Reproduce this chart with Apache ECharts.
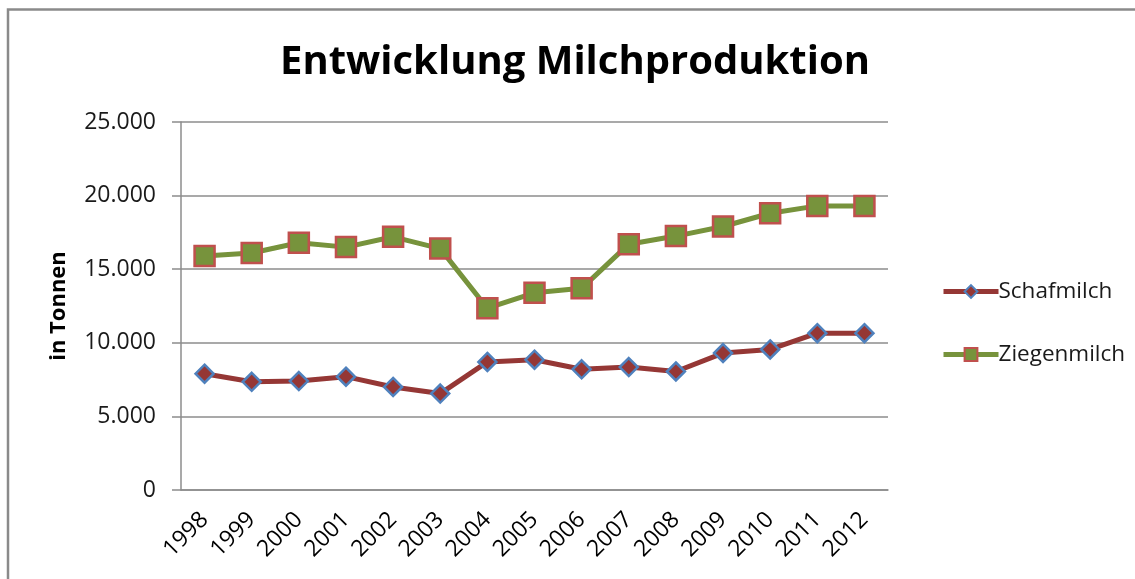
<!DOCTYPE html>
<html>
<head>
<meta charset="utf-8">
<script src="https://cdn.jsdelivr.net/npm/echarts@6/dist/echarts.min.js"></script>
<style>
html,body{margin:0;padding:0;background:#fff;}
#chart{width:1135px;height:579px;}
</style>
</head>
<body>
<div id="chart"></div>
<script>
const years = ['1998','1999','2000','2001','2002','2003','2004','2005','2006','2007','2008','2009','2010','2011','2012'];
const schafmilch = [7900, 7350, 7400, 7700, 7000, 6550, 8700, 8850, 8200, 8350, 8050, 9300, 9550, 10650, 10650];
const ziegenmilch = [15900, 16100, 16800, 16500, 17200, 16400, 12350, 13400, 13700, 16700, 17250, 17900, 18800, 19300, 19300];
const yTicks = [0, 5000, 10000, 15000, 20000, 25000];

const FONT = 'Open Sans';
const fmt = v => v === 0 ? '0' : v.toLocaleString('de-DE');

const chart = echarts.init(document.getElementById('chart'), null, {renderer: 'canvas'});
chart.setOption({
  animation: false,
  backgroundColor: '#fff',
  graphic: [{
    type: 'rect', shape: {x: 8, y: 9.5, width: 2000, height: 2000},
    style: {fill: 'none', stroke: '#8a8a8a', lineWidth: 2.5}, silent: true
  }],
  title: {
    text: 'Entwicklung Milchproduktion',
    left: 570, top: 38, textAlign: 'center',
    textStyle: {fontFamily: FONT, fontSize: 40, fontWeight: 'bold', color: '#000'}
  },
  legend: {
    orient: 'vertical', left: 936, top: 275, itemGap: 40,
    itemWidth: 55, itemHeight: 16,
    lineStyle: {width: 5},
    textStyle: {fontFamily: FONT, fontSize: 22.5, color: '#1a1a1a', padding: [0,0,0,-5]},
    data: ['Schafmilch', 'Ziegenmilch']
  },
  grid: {left: 181, right: 247, top: 122, bottom: 89, containLabel: false},
  xAxis: {
    type: 'category', data: years, boundaryGap: true,
    axisLine: {lineStyle: {color: '#8c8c8c', width: 1.5}},
    axisTick: {show: false},
    axisLabel: {rotate: 45, margin: 26, fontFamily: FONT, fontSize: 23, color: '#000', interval: 0}
  },
  yAxis: {
    type: 'value', min: yTicks[0], max: yTicks[yTicks.length-1], interval: yTicks[1]-yTicks[0],
    name: 'in Tonnen', nameLocation: 'middle', nameGap: 111,
    nameTextStyle: {fontFamily: FONT, fontSize: 22, fontWeight: 'bold', color: '#000'},
    axisLine: {show: true, lineStyle: {color: '#8c8c8c', width: 1.5}},
    axisTick: {show: true, inside: false, length: 9, lineStyle: {color: '#8c8c8c', width: 1.5}},
    splitLine: {lineStyle: {color: '#8c8c8c', width: 1.5}},
    axisLabel: {margin: 25, fontFamily: FONT, fontSize: 23, color: '#1a1a1a', formatter: fmt}
  },
  series: [
    {
      name: 'Schafmilch', type: 'line', data: schafmilch,
      symbol: 'diamond', symbolSize: 18,
      lineStyle: {color: '#953735', width: 5},
      itemStyle: {color: '#953735', borderColor: '#4f81bd', borderWidth: 2.5}
    },
    {
      name: 'Ziegenmilch', type: 'line', data: ziegenmilch,
      symbol: 'rect', symbolSize: 20,
      lineStyle: {color: '#77933c', width: 5},
      itemStyle: {color: '#77933c', borderColor: '#c0504d', borderWidth: 2.5}
    }
  ]
});
</script>
</body>
</html>
